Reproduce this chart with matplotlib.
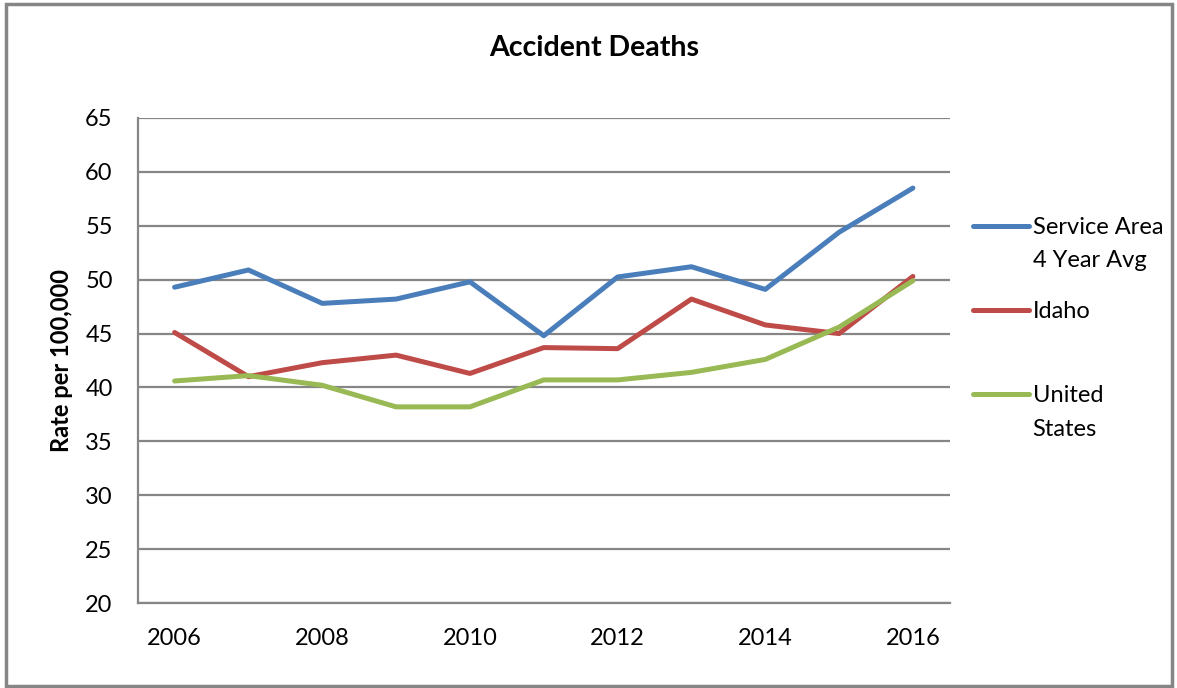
import matplotlib.pyplot as plt
from matplotlib.patches import Rectangle
from matplotlib.legend_handler import HandlerLine2D

# --- DATA ---
years = [2006, 2007, 2008, 2009, 2010, 2011, 2012, 2013, 2014, 2015, 2016]
service_area = [49.3, 50.9, 47.8, 48.2, 49.8, 44.8, 50.25, 51.2, 49.1, 54.4, 58.5]
idaho = [45.1, 41.0, 42.3, 43.0, 41.3, 43.7, 43.6, 48.2, 45.8, 45.0, 50.3]
united_states = [40.6, 41.1, 40.2, 38.2, 38.2, 40.7, 40.7, 41.4, 42.6, 45.6, 49.9]
xtick_years = [2006, 2008, 2010, 2012, 2014, 2016]
yticks = [20, 25, 30, 35, 40, 45, 50, 55, 60, 65]

GRAY = "#868686"
LEG_FS = 17


# legend handle sits on the first line of a two-line label
class FirstLineHandler(HandlerLine2D):
    def __init__(self, raise_pt, **kw):
        super().__init__(**kw)
        self.raise_pt = raise_pt

    def create_artists(self, legend, orig_handle, xdescent, ydescent,
                       width, height, fontsize, trans):
        return super().create_artists(legend, orig_handle, xdescent,
                                      ydescent - 2 * self.raise_pt,
                                      width, height, fontsize, trans)


plt.rcParams["font.family"] = ["Lato", "DejaVu Sans"]

fig = plt.figure(figsize=(11.77, 6.88), dpi=100)
ax = fig.add_axes([0.117, 0.1235, 0.69, 0.705])

# --- PLOT ---
l1, = ax.plot(years, service_area, color="#4a7ebb", lw=3.6, label="Service Area\n4 Year Avg",
              solid_capstyle="round", solid_joinstyle="round")
l2, = ax.plot(years, idaho, color="#be4b48", lw=3.6, label="Idaho\n",
              solid_capstyle="round", solid_joinstyle="round")
l3, = ax.plot(years, united_states, color="#98b954", lw=3.6, label="United\nStates",
              solid_capstyle="round", solid_joinstyle="round")

ax.set_xlim(2005.5, 2016.5)
ax.set_ylim(20, 65)
ax.set_xticks(xtick_years)
ax.set_yticks(yticks)
ax.tick_params(axis="x", length=0, pad=18, labelsize=17)
ax.tick_params(axis="y", length=0, pad=18, labelsize=17)

ax.grid(axis="y", color=GRAY, lw=1.6)
ax.set_axisbelow(True)
for side in ["top", "right"]:
    ax.spines[side].set_visible(False)
for side in ["left", "bottom"]:
    ax.spines[side].set_color(GRAY)
    ax.spines[side].set_linewidth(1.6)

ax.set_ylabel("Rate per 100,000", fontsize=17, fontweight="bold")
ax.yaxis.set_label_coords(-0.080, 0.5)
fig.text(0.505, 0.930, "Accident Deaths", ha="center", va="center",
         fontsize=20.5, fontweight="bold")

shift = 13.3
hmap = {l: FirstLineHandler(shift) for l in (l1, l2, l3)}
leg = ax.legend(handler_map=hmap, loc="upper left", bbox_to_anchor=(1.028, 0.796),
                frameon=False, fontsize=LEG_FS, handlelength=2.37, handletextpad=0.17,
                labelspacing=1.27, borderpad=0, borderaxespad=0)
for t in leg.get_texts():
    t.set_linespacing(1.72)

# outer chart border
fig.patches.append(Rectangle((0.005, 0.003), 0.991, 0.991, transform=fig.transFigure,
                             fill=False, edgecolor=GRAY, lw=2.5))

plt.savefig("out.png", dpi=100)
